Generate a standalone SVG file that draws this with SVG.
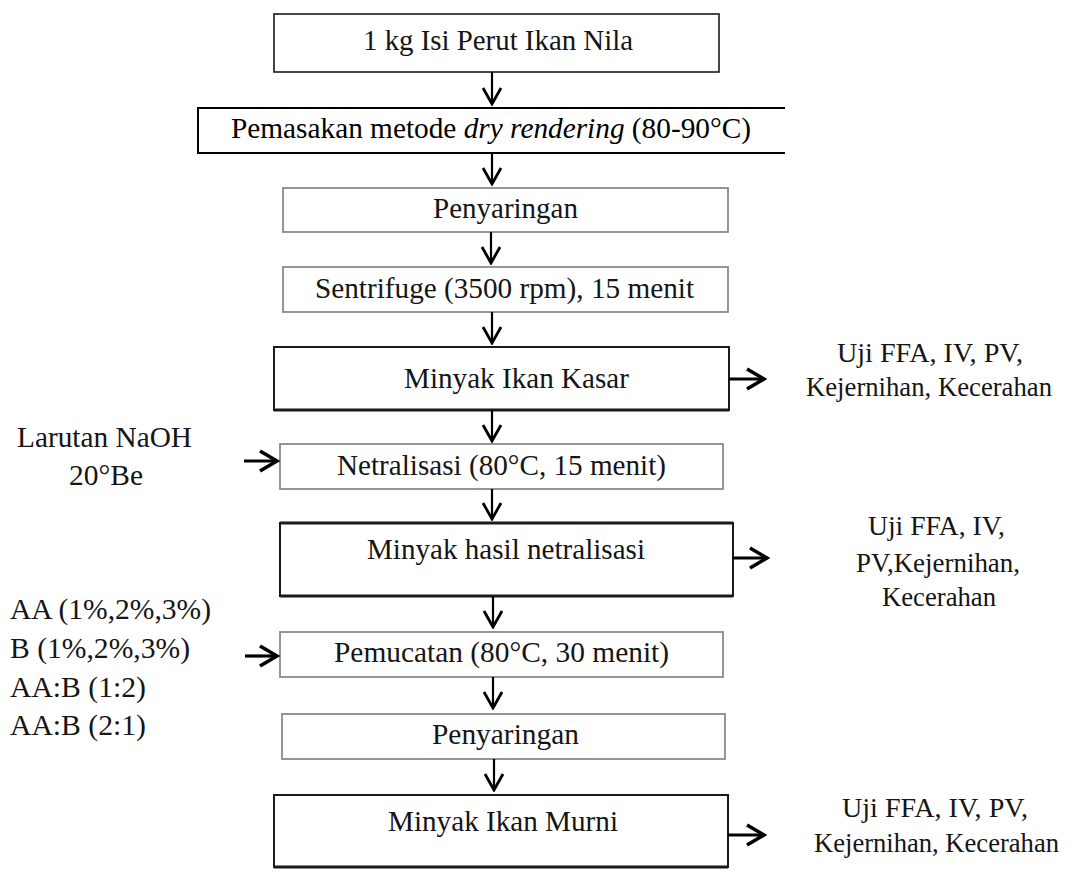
<svg xmlns="http://www.w3.org/2000/svg" width="1083" height="895" viewBox="0 0 1083 895">
<style>
text{font-family:"Liberation Serif","Times New Roman",serif;font-size:29px;fill:#151515}
.sm{font-size:28px}
.bk{fill:#fff;stroke:#1a1a1a;stroke-width:2}
.gr{fill:#fff;stroke:#8a8a8a;stroke-width:1.8}
.thick{fill:none;stroke:#1a1a1a;stroke-width:3}
.ar{fill:none;stroke:#000;stroke-width:2.2}
.arT{fill:none;stroke:#000;stroke-width:3.2}
</style>
<defs>
<marker id="ch" markerUnits="userSpaceOnUse" viewBox="0 0 20 22" markerWidth="20" markerHeight="22" refX="18" refY="11" orient="auto">
<path d="M2,2 L18,11 L2,20" fill="none" stroke="#000" stroke-width="2.8" stroke-linejoin="miter"/>
</marker>
<marker id="chT" markerUnits="userSpaceOnUse" viewBox="0 0 22 24" markerWidth="22" markerHeight="24" refX="19" refY="12" orient="auto">
<path d="M2,2 L19,12 L2,22" fill="none" stroke="#000" stroke-width="3.6" stroke-linejoin="miter"/>
</marker>
</defs>
<rect width="1083" height="895" fill="#fff"/>

<g id="n1"><rect class="bk" x="274" y="14" width="445" height="58" style="stroke-width:1.6"/>
<text x="363" y="50" textLength="270" lengthAdjust="spacingAndGlyphs">1 kg Isi Perut Ikan Nila</text></g>

<g id="n2"><path d="M785,108 H198 V153 H785" fill="#fff" stroke="#000" stroke-width="2"/>
<text x="231" y="138" textLength="520" lengthAdjust="spacingAndGlyphs" style="fill:#000">Pemasakan metode <tspan font-style="italic">dry rendering</tspan> (80-90°C)</text></g>

<g id="n3"><rect class="gr" x="283" y="188" width="445" height="44"/>
<text x="433" y="218" textLength="145" lengthAdjust="spacingAndGlyphs">Penyaringan</text></g>

<g id="n4"><rect class="gr" x="283" y="267" width="445" height="45"/>
<text x="315" y="298" textLength="379" lengthAdjust="spacingAndGlyphs">Sentrifuge (3500 rpm), 15 menit</text></g>

<g id="n5"><rect class="bk" x="274" y="347" width="455" height="63"/>
<line class="thick" x1="274" y1="410" x2="729" y2="410"/>
<text x="404" y="388" textLength="225" lengthAdjust="spacingAndGlyphs">Minyak Ikan Kasar</text></g>

<g id="t1"><text class="sm" x="837" y="362" textLength="186" lengthAdjust="spacingAndGlyphs">Uji FFA, IV, PV,</text>
<text class="sm" x="806" y="396" textLength="246" lengthAdjust="spacingAndGlyphs">Kejernihan, Kecerahan</text></g>

<g id="n6"><rect class="gr" x="280" y="444" width="443" height="45"/>
<text x="337" y="475" textLength="329" lengthAdjust="spacingAndGlyphs">Netralisasi (80°C, 15 menit)</text></g>

<g id="i1"><text x="17" y="447" textLength="175" lengthAdjust="spacingAndGlyphs">Larutan NaOH</text>
<text x="69" y="485" textLength="74" lengthAdjust="spacingAndGlyphs">20°Be</text></g>

<g id="n7"><rect class="bk" x="280" y="523" width="453" height="73"/>
<line class="thick" x1="280" y1="523" x2="733" y2="523"/>
<line class="thick" x1="280" y1="596" x2="733" y2="596"/>
<text x="367" y="559" textLength="278" lengthAdjust="spacingAndGlyphs">Minyak hasil netralisasi</text></g>

<g id="t2"><text class="sm" x="868" y="535" textLength="137" lengthAdjust="spacingAndGlyphs">Uji FFA, IV,</text>
<text class="sm" x="856" y="572" textLength="164" lengthAdjust="spacingAndGlyphs">PV,Kejernihan,</text>
<text class="sm" x="882" y="606" textLength="114" lengthAdjust="spacingAndGlyphs">Kecerahan</text></g>

<g id="i2"><text x="10" y="619" textLength="201" lengthAdjust="spacingAndGlyphs">AA (1%,2%,3%)</text>
<text x="10" y="658" textLength="180" lengthAdjust="spacingAndGlyphs">B (1%,2%,3%)</text>
<text x="10" y="697" textLength="136" lengthAdjust="spacingAndGlyphs">AA:B (1:2)</text>
<text x="10" y="735" textLength="136" lengthAdjust="spacingAndGlyphs">AA:B (2:1)</text></g>

<g id="n8"><rect class="gr" x="280" y="632" width="443" height="45"/>
<text x="334" y="662" textLength="335" lengthAdjust="spacingAndGlyphs">Pemucatan (80°C, 30 menit)</text></g>

<g id="n9"><rect class="gr" x="282" y="714" width="443" height="45"/>
<text x="432" y="744" textLength="147" lengthAdjust="spacingAndGlyphs">Penyaringan</text></g>

<g id="n10"><rect class="bk" x="274" y="795" width="454" height="72"/>
<line class="thick" x1="274" y1="867" x2="728" y2="867"/>
<text x="388" y="831" textLength="230" lengthAdjust="spacingAndGlyphs">Minyak Ikan Murni</text></g>

<g id="t3"><text class="sm" x="842" y="817" textLength="186" lengthAdjust="spacingAndGlyphs">Uji FFA, IV, PV,</text>
<text class="sm" x="814" y="852" textLength="245" lengthAdjust="spacingAndGlyphs">Kejernihan, Kecerahan</text></g>

<g id="connectors">
<line class="ar" x1="492" y1="72" x2="492" y2="104" marker-end="url(#ch)"/>
<line class="ar" x1="492" y1="153" x2="492" y2="184" marker-end="url(#ch)"/>
<line class="ar" x1="491" y1="232" x2="491" y2="263" marker-end="url(#ch)"/>
<line class="ar" x1="492" y1="312" x2="492" y2="343" marker-end="url(#ch)"/>
<line class="ar" x1="492" y1="410" x2="492" y2="441" marker-end="url(#ch)"/>
<line class="ar" x1="492" y1="489" x2="492" y2="519" marker-end="url(#ch)"/>
<line class="ar" x1="493" y1="596" x2="493" y2="627" marker-end="url(#ch)"/>
<line class="ar" x1="493" y1="677" x2="493" y2="708" marker-end="url(#ch)"/>
<line class="ar" x1="494" y1="759" x2="494" y2="790" marker-end="url(#ch)"/>
<line class="arT" x1="729" y1="379" x2="764" y2="379" marker-end="url(#chT)"/>
<line class="arT" x1="733" y1="558" x2="767" y2="558" marker-end="url(#chT)"/>
<line class="arT" x1="728" y1="835" x2="764" y2="835" marker-end="url(#chT)"/>
<line class="arT" x1="244" y1="461" x2="277" y2="461" marker-end="url(#chT)"/>
<line class="arT" x1="245" y1="656" x2="277" y2="656" marker-end="url(#chT)"/>
</g>
</svg>
